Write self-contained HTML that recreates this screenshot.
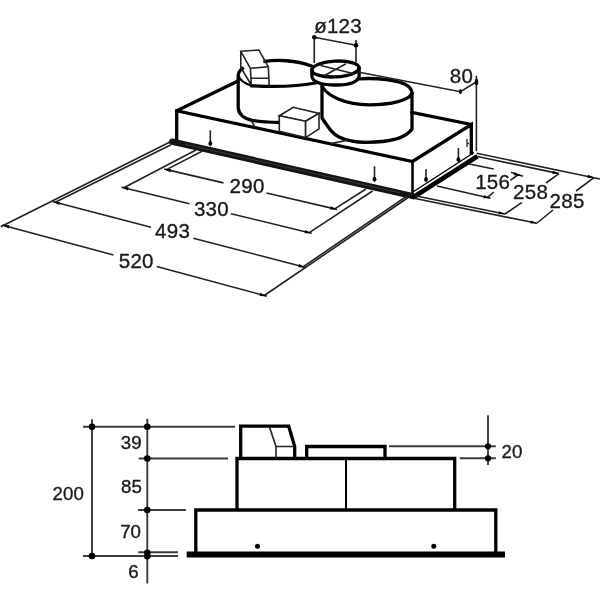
<!DOCTYPE html>
<html><head><meta charset="utf-8"><style>
html,body{margin:0;padding:0;background:#fff;width:600px;height:600px;overflow:hidden}
svg{display:block;will-change:transform}
text{font-family:"Liberation Sans",sans-serif;fill:#1a1a1a;stroke:#1a1a1a;stroke-width:0.35px}
.k{stroke:#000;stroke-width:3.3;fill:none;stroke-linejoin:miter;stroke-linecap:square}
.t{stroke:#222;stroke-width:1.6;fill:none}
.m{stroke:#3a3a3a;stroke-width:1.9;fill:none}
</style></head><body>
<svg width="600" height="600" viewBox="0 0 600 600">
<path stroke="#141414" stroke-width="6.3" fill="none" stroke-linecap="round" d="M172,141.6 L412.5,196"/><path stroke="#444" stroke-width="0.8" fill="none" d="M185,144.3 L400,192.9"/>
<path stroke="#000" stroke-width="4.6" fill="none" d="M412.5,197.8 L477.5,156.3"/>
<path stroke="#000" stroke-width="1.4" fill="none" d="M413,192 L474,152.5"/>
<path class="k" d="M176.7,139 V110.8 L237.5,81.3 M176.7,110.8 L412.5,161.5 L471.3,124.5 V153 M471.3,124.5 L412,112.5"/>
<path stroke="#000" stroke-width="2.6" fill="none" d="M412.5,161.5 V194"/>
<path class="k" d="M242.4,68.5 C239.5,70.5 238.2,73 238.2,76 V107.5 C238.5,114 244,118.5 252,120.3 C260,121.8 270,122.3 279.5,122.5"/>
<path class="k" d="M265,61.3 C276,59.8 295,59.8 311.5,66"/>
<path class="k" d="M251.7,85.8 C270,86.8 295,87 315,83"/>
<path stroke="#000" stroke-width="2.2" fill="none" d="M238.5,75.5 C239.5,79.5 244,83.5 252,85.6"/>
<path class="k" d="M359.4,78.8 C375,77.5 400,80 408,86 C411,88.5 412,91 412,94 V129 C406,138 390,142.3 366,142.3 C354,142.3 346,140.5 339,137 C333.5,134.5 330,130 322,118 V86.5"/>
<path class="k" d="M322.5,87 C328,96 345,104.8 369,104.8 C392,104.8 409,100 412,93.5"/>
<ellipse class="k" cx="335.5" cy="69" rx="23.6" ry="7.9" transform="rotate(-3 335.5 69)" style="fill:#fff"/>
<path class="k" d="M311.9,69.5 V76.5 C313,82.5 323,85 336,85 C348,85 358,82.5 359.1,76 V68"/>
<path class="t" d="M320.5,65.5 L355,74 M324.5,75.5 L346,63.8"/>
<path class="t" d="M240.8,51.3 L258.8,50 L268.3,66.7 L250.4,68.3 Z M240.8,51.3 V67.5 L251.3,85 M250.4,68.3 L251.3,85 M268.3,66.7 L269.2,85.4 M251,78.3 L269,78"/>
<path class="t" style="fill:#fff" d="M279.3,115.8 L293.3,107.3 L319,113.4 L305.6,121.3 Z"/>
<path class="t" style="fill:#fff" d="M279.3,115.8 V131.2 L305.6,137.6 V121.3 Z"/>
<path class="t" style="fill:#fff" d="M305.6,121.3 L319,113.4 V128.8 L305.6,137.6 Z"/>
<path class="t" d="M252,121.7 L254.8,127.2 M331,143.6 L347,140.3"/>
<path class="t" d="M210.3,130.3 V143"/>
<path fill="#000" d="M210.30,147.00 L211.80,141.50 L208.80,141.50 Z"/>
<circle fill="#000" cx="210.3" cy="143.8" r="2"/>
<path class="t" d="M374.5,166.3 V178.7"/>
<path fill="#000" d="M374.50,182.70 L376.00,177.20 L373.00,177.20 Z"/>
<circle fill="#000" cx="374.5" cy="179.5" r="2"/>
<path class="t" d="M426,169 V179"/>
<path fill="#000" d="M426.00,183.00 L427.50,177.50 L424.50,177.50 Z"/>
<circle fill="#000" cx="426" cy="179.8" r="2"/>
<path class="t" d="M458.4,148 V159"/>
<path fill="#000" d="M458.40,163.00 L459.90,157.50 L456.90,157.50 Z"/>
<circle fill="#000" cx="458.4" cy="159.8" r="2"/>
<path stroke="#222" stroke-width="1.3" fill="none" d="M467,139 V147 M467,143.5 H469"/>
<path class="t" d="M170.5,141.8 L0.7,226.7 M171,144.7 L55.3,202.3 M196,150 L123.8,187.8 M202,151.3 L166.5,169.6"/>
<path class="t" d="M407.5,198 L264.3,295.5 M410.5,193.6 L303,266.8 M366,189 L334.7,208.9 M372.5,191 L309.3,232.7"/>
<path class="t" d="M166.5,169.6 L223.5,182.9 M266.5,193.0 L334.7,208.9"/>
<path class="t" d="M164.1,169.0 L166.5,169.6 M334.7,208.9 L337.1,209.5"/>
<path fill="#000" d="M164.07,169.03 L170.52,172.18 L171.25,169.07 Z"/>
<path fill="#000" d="M337.13,209.47 L330.68,206.32 L329.95,209.43 Z"/>
<path class="t" d="M123.8,187.8 L189.5,203.7 M231.0,213.7 L309.3,232.7"/>
<path class="t" d="M121.4,187.2 L123.8,187.8 M309.3,232.7 L311.7,233.3"/>
<path fill="#000" d="M121.37,187.21 L127.80,190.41 L128.55,187.30 Z"/>
<path fill="#000" d="M311.73,233.29 L305.30,230.09 L304.55,233.20 Z"/>
<path class="t" d="M55.3,202.3 L151.0,227.2 M193.3,238.2 L303,266.8"/>
<path class="t" d="M52.9,201.7 L55.3,202.3 M303,266.8 L305.4,267.4"/>
<path fill="#000" d="M52.88,201.67 L59.25,204.98 L60.06,201.89 Z"/>
<path fill="#000" d="M305.42,267.43 L299.05,264.12 L298.24,267.21 Z"/>
<path class="t" d="M4.7,225.7 L113.5,255.0 M156.7,266.6 L264.3,295.5"/>
<path class="t" d="M2.3,225.1 L4.7,225.7 M264.3,295.5 L266.7,296.1"/>
<path fill="#000" d="M2.29,225.05 L8.63,228.41 L9.46,225.32 Z"/>
<path fill="#000" d="M266.71,296.15 L260.37,292.79 L259.54,295.88 Z"/>
<path class="t" d="M476.7,153.3 L600,179 M477.5,156.5 L559,173.6 M414,198.3 L537,223.3 M415,195.8 L505,214 M468,163.7 L493.7,169 M437,186 L490.5,198.2 M487.5,197.3 L493.8,192 M511,172.3 L523,176.3 M510.3,180.3 L517.7,175 M505,214 L522,202.4 M546,183 L559,173.6 M537,223 L553,210 M576,191 L594,177.6"/>
<path fill="#000" d="M490.50,198.20 L484.03,195.08 L483.32,198.20 Z"/>
<path fill="#000" d="M521.00,176.20 L514.59,171.98 L513.43,174.97 Z"/>
<path fill="#000" d="M505.00,214.00 L498.95,211.14 L498.31,214.28 Z"/>
<path fill="#000" d="M537.00,223.30 L530.95,220.44 L530.31,223.57 Z"/>
<path fill="#000" d="M559.00,173.60 L552.97,170.70 L552.31,173.83 Z"/>
<path fill="#000" d="M594.00,177.60 L587.96,174.71 L587.31,177.85 Z"/>
<path class="t" d="M314.3,36 V63 M356,40 V62.5 M314.3,37.3 L356,45.3"/>
<circle fill="#000" cx="314.3" cy="37.3" r="2.3"/>
<circle fill="#000" cx="356" cy="45.3" r="2.3"/>
<path class="t" d="M359.3,72.3 L460.4,91.7 L476.7,81.7 M476.4,75.7 V151"/>
<ellipse fill="#000" cx="460.4" cy="91.5" rx="1.5" ry="2.5"/>
<ellipse fill="#000" cx="476.5" cy="82" rx="1.7" ry="3.2"/>
<text x="314.2" y="32.5" style="font-size:20.5px;letter-spacing:0.25px">ø123</text>
<text x="449.8" y="83" style="font-size:20.5px;letter-spacing:0.25px">80</text>
<text x="229.6" y="193.2" style="font-size:20.5px;letter-spacing:0.25px">290</text>
<text x="193.9" y="216.2" style="font-size:20.5px;letter-spacing:0.25px">330</text>
<text x="155.1" y="238.3" style="font-size:20.5px;letter-spacing:0.25px">493</text>
<text x="118.8" y="267.9" style="font-size:20.5px;letter-spacing:0.25px">520</text>
<text x="475.2" y="188.5" style="font-size:20.5px;letter-spacing:0.25px">156</text>
<text x="513.1" y="198.8" style="font-size:20.5px;letter-spacing:0.25px">258</text>
<text x="549.6" y="208" style="font-size:20.5px;letter-spacing:0.25px">285</text>
<path class="m" d="M92,419.3 V556 M147.3,418.7 V583.6 M83,426.7 H235 M138.7,458.5 H228 M138,510 H185.8 M138.3,552.3 H178 M83,556 H178"/>
<circle fill="#000" cx="92" cy="426.7" r="3.3"/>
<circle fill="#000" cx="147.3" cy="426.7" r="3.3"/>
<circle fill="#000" cx="147.3" cy="458.5" r="3.3"/>
<circle fill="#000" cx="147.3" cy="510" r="3.3"/>
<circle fill="#000" cx="92" cy="556" r="3.3"/>
<circle fill="#000" cx="147.3" cy="552.8" r="3.3"/>
<circle fill="#000" cx="147.3" cy="556.2" r="3.3"/>
<path class="k" d="M240.7,458.5 V426.2 H288.7 L294.7,446.5 V458.5 H306.7 V446.5 H385 V458.5 M237,510 V458.5 H454.7 V510 M195.8,553 V510 H495.8 V553"/>
<path class="t" d="M269.2,426.2 L276,446.5 V458.5 M276,446.5 H294.7"/>
<path stroke="#000" stroke-width="2" fill="none" d="M346,458.5 V510"/>
<path stroke="#000" stroke-width="6" fill="none" d="M186.7,554.5 H505"/>
<circle fill="#000" cx="257.5" cy="546.3" r="2.5"/>
<circle fill="#000" cx="433.8" cy="546.3" r="2.5"/>
<path class="m" d="M488,415.3 V465 M389,446.3 H495.8 M459.7,458.3 H495.8"/>
<circle fill="#000" cx="488" cy="446.3" r="3.1"/>
<circle fill="#000" cx="488" cy="458.3" r="3.1"/>
<text x="120.8" y="449.3" style="font-size:18.7px;letter-spacing:0px">39</text>
<text x="121" y="493.3" style="font-size:18.7px;letter-spacing:0px">85</text>
<text x="120.2" y="538.2" style="font-size:18.7px;letter-spacing:0px">70</text>
<text x="128.2" y="577.7" style="font-size:18.7px;letter-spacing:0px">6</text>
<text x="52.6" y="500.2" style="font-size:18.7px;letter-spacing:0px">200</text>
<text x="501.5" y="458.2" style="font-size:18.7px;letter-spacing:0px">20</text>
</svg>
</body></html>
